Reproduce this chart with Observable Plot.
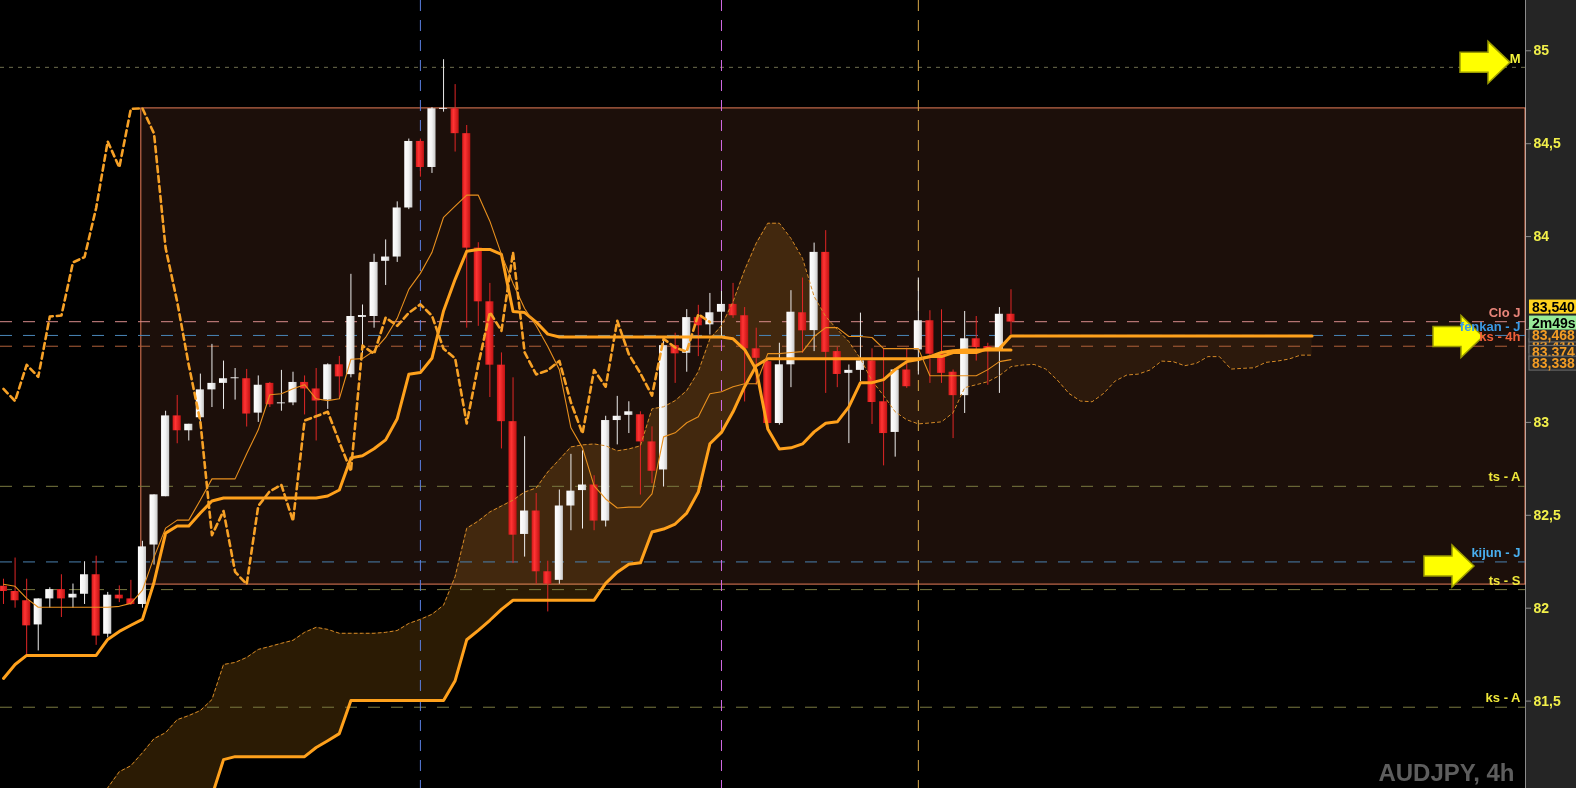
<!DOCTYPE html>
<html><head><meta charset="utf-8">
<script src="https://cdn.jsdelivr.net/npm/d3@7"></script>
<script src="https://cdn.jsdelivr.net/npm/@observablehq/plot@0.6"></script>
<style>
html,body{margin:0;padding:0;background:#000;overflow:hidden;}
#chart svg{display:block;}
#chart [aria-label^="y-axis"] text{fill:#f2f04a;font-size:14px;font-weight:bold;}
#chart [aria-label^="y-axis"] line,#chart [aria-label^="y-axis"] path{stroke:#8c8c8c;}
</style></head><body><div id="chart"></div>
<script>
// ---- candles (AUDJPY 4h), index 0..87
const open = [82.118,82.09,82.04,81.91,82.05,82.10,82.055,82.075,82.18,81.86,
82.07,82.05,82.02,82.34,82.60,83.035,82.955,83.025,83.175,83.21,
83.235,83.235,83.05,83.21,83.10,83.105,83.215,83.18,83.12,83.31,
83.257,83.565,83.57,83.867,83.89,84.154,84.512,84.372,84.685,84.688,
84.554,83.938,83.649,83.308,83.004,82.397,82.523,82.196,82.15,82.55,
82.633,82.663,82.469,83.01,83.038,83.041,82.895,82.744,83.413,83.372,
83.564,83.525,83.593,83.635,83.574,83.396,83.327,82.994,83.31,83.59,
83.494,83.915,83.381,83.264,83.28,83.331,83.111,82.946,83.282,83.39,
83.547,83.367,83.27,83.144,83.45,83.408,83.385,83.582];
const high = [82.156,82.27,82.156,82.05,82.11,82.18,82.13,82.25,82.28,82.085,
82.12,82.15,82.36,82.61,83.06,83.145,82.99,83.26,83.42,83.33,
83.29,83.285,83.25,83.215,83.28,83.27,83.25,83.29,83.315,83.355,
83.797,83.632,83.905,83.982,84.187,84.525,84.525,84.694,84.952,84.818,
84.598,83.967,83.748,83.374,83.24,82.923,82.617,82.253,82.636,82.828,
82.847,82.713,83.033,83.14,83.111,83.057,82.976,83.446,83.48,83.607,
83.63,83.694,83.705,83.748,83.618,83.507,83.345,83.426,83.709,83.777,
83.965,84.032,83.403,83.309,83.588,83.396,83.396,83.288,83.399,83.777,
83.601,83.606,83.282,83.597,83.57,83.426,83.618,83.714];
const low = [82.02,82.00,81.735,81.77,82.00,81.95,82.00,82.02,81.80,81.84,
82.03,82.015,82.00,82.232,82.60,82.885,82.90,82.99,83.08,83.07,
83.12,82.975,83.00,83.08,83.06,83.09,83.04,82.90,83.07,83.13,
83.24,83.365,83.507,83.737,83.861,84.145,84.32,84.34,84.67,84.455,
83.507,83.517,83.134,82.857,82.24,82.275,82.129,81.98,82.129,82.417,
82.426,82.417,82.437,82.879,82.94,82.609,82.67,82.652,83.21,83.27,
83.354,83.47,83.462,83.56,83.11,83.2,82.98,82.985,83.187,83.372,
83.381,83.156,83.187,82.886,83.219,82.989,82.766,82.813,83.183,83.255,
83.21,83.21,82.913,83.048,83.33,83.2,83.156,83.471];
const close = [82.09,82.04,81.905,82.05,82.10,82.05,82.075,82.18,81.85,82.07,
82.05,82.02,82.33,82.61,83.035,82.955,82.99,83.175,83.21,83.235,
83.24,83.045,83.20,83.095,83.105,83.215,83.18,83.115,83.31,83.245,
83.57,83.575,83.861,83.89,84.154,84.512,84.372,84.688,84.69,84.554,
83.938,83.649,83.308,83.004,82.393,82.523,82.196,82.129,82.55,82.63,
82.663,82.469,83.01,83.033,83.057,82.895,82.737,83.413,83.369,83.564,
83.52,83.59,83.635,83.574,83.396,83.345,82.994,83.31,83.593,83.493,
83.915,83.377,83.258,83.28,83.331,83.107,82.94,83.282,83.192,83.547,
83.367,83.264,83.144,83.45,83.403,83.381,83.582,83.54];

// ---- Ichimoku lines (index 0..87)
const tenkan = [82.129,82.118,82.053,82.005,82.005,82.005,82.005,82.005,82.005,82.005,
82.010,82.026,82.097,82.275,82.431,82.474,82.474,82.582,82.696,82.696,
82.696,82.831,82.960,83.149,83.154,83.181,83.203,83.127,83.117,83.127,
83.340,83.343,83.386,83.457,83.560,83.716,83.802,83.915,84.104,84.164,
84.223,84.223,84.083,83.904,83.748,83.613,83.520,83.408,83.284,82.971,
82.863,82.658,82.588,82.539,82.544,82.544,82.615,82.922,82.944,82.998,
83.030,83.154,83.165,83.192,83.208,83.208,83.370,83.370,83.376,83.381,
83.462,83.510,83.510,83.462,83.462,83.457,83.397,83.397,83.397,83.397,
83.251,83.251,83.251,83.251,83.251,83.284,83.327,83.338];
const kijun = [81.622,81.697,81.746,81.746,81.746,81.746,81.746,81.746,81.746,81.832,
81.875,81.908,81.940,82.140,82.404,82.442,82.442,82.512,82.577,82.593,
82.593,82.593,82.593,82.593,82.593,82.593,82.593,82.593,82.604,82.636,
82.809,82.820,82.858,82.906,83.020,83.259,83.268,83.345,83.600,83.770,
83.921,83.931,83.931,83.904,83.597,83.591,83.540,83.475,83.460,83.460,
83.460,83.460,83.460,83.460,83.460,83.460,83.460,83.460,83.460,83.460,
83.460,83.460,83.460,83.450,83.392,83.284,82.965,82.857,82.863,82.884,
82.949,82.995,83.003,83.084,83.214,83.214,83.230,83.284,83.327,83.338,
83.354,83.376,83.386,83.390,83.390,83.390,83.390,83.390];
// ---- Senkou spans, shifted 26 ahead: index 8..113
const senkouStart = 8;
const senkouA = [80.95,81.033,81.12,81.152,81.222,81.298,81.33,81.40,81.422,81.449,
81.508,81.697,81.708,81.735,81.778,81.794,81.811,81.827,81.870,81.897,
81.886,81.865,81.865,81.865,81.865,81.870,81.880,81.918,81.940,81.967,
82.016,82.170,82.430,82.469,82.518,82.550,82.582,82.625,82.647,82.733,
82.800,82.868,82.879,82.884,82.874,82.847,82.857,82.874,83.073,83.084,
83.117,83.171,83.273,83.450,83.520,83.650,83.820,83.964,84.072,84.072,
83.990,83.883,83.678,83.570,83.500,83.435,83.343,83.224,83.144,83.057,
83.014,82.992,82.997,83.003,83.052,83.187,83.203,83.219,83.252,83.300,
83.309,83.312,83.287,83.228,83.156,83.115,83.111,83.156,83.223,83.255,
83.260,83.282,83.330,83.327,83.305,83.318,83.354,83.354,83.287,83.291,
83.294,83.323,83.330,83.341,83.362,83.362];
const senkouB = [80.88,80.88,80.88,80.88,80.88,80.88,80.88,80.88,80.88,80.88,
80.99,81.185,81.201,81.201,81.201,81.201,81.201,81.201,81.201,81.25,
81.287,81.325,81.503,81.503,81.503,81.503,81.503,81.503,81.503,81.503,
81.503,81.61,81.83,81.881,81.935,81.994,82.043,82.043,82.043,82.043,
82.043,82.043,82.043,82.043,82.134,82.194,82.237,82.244,82.41,82.426,
82.453,82.512,82.625,82.885,82.946,83.057,83.192,83.305,83.343,83.343,
83.343,83.343,83.343,83.343,83.343,83.343,83.343,83.343,83.343,83.343,
83.343,83.343,83.354,83.354,83.376,83.376,83.376,83.397,83.397,83.465,
83.465,83.465,83.465,83.465,83.465,83.465,83.465,83.465,83.465,83.465,
83.465,83.465,83.465,83.465,83.465,83.465,83.465,83.465,83.465,83.465,
83.465,83.465,83.465,83.465,83.465,83.465];
const chikouShift = 26;

// ---- horizontal levels
const levelValues = [84.911, 83.542, 83.468, 83.410, 82.656, 82.249, 82.100, 81.467];
const levelLabels = ["M", "Clo J", "fenkan - J", "ks - 4h", "ts - A", "kijun - J", "ts - S", "ks - A"];
const levelLineColors = ["#6e6e4e","#d88c8c","#4a86b8","#b0603a","#7a7a40","#4a80b0","#7a7a40","#7a7a40"];
const levelTextColors = ["#f5f53c","#e8857a","#3a9ae6","#f0603a","#f0e83a","#4ab0f0","#f0e83a","#f0e83a"];
// ---- vertical markers (candle index)
const vLineIndex = [36, 62, 79];
const vLineColors = ["#5b7fe0", "#d46ae6", "#d8a848"];
// ---- range box (highest / lowest close)
const boxStart = 11.9;
const boxHigh = 84.69;
const boxLow = 82.127;
// ---- right scale ticks & axis boxes
const yTicks = [81.5, 82, 82.5, 83, 83.5, 84, 84.5, 85];
const axisValues = [83.410, 83.468, 83.374, 83.338];
const timerText = "2m49s";
const symbolLabel = "AUDJPY, 4h";

const xDomain = [-0.259, 131.43];
const yDomain = [81.0296, 85.2707];
const fmt = v => v.toFixed(3).replace(".", ",");

const candles = open.map((o, i) => ({i, o, h: high[i], l: low[i], c: close[i]}));
const chikou = close.slice(chikouShift).map((v, k) => ({i: k, v}));
const tenkanD = tenkan.map((v, i) => ({i, v}));
const kijunD = kijun.map((v, i) => ({i, v}));
const cloud = senkouA.map((a, k) => ({i: k + senkouStart, a, b: senkouB[k]}));
const levels = levelValues.map((v, k) => ({v, label: levelLabels[k], line: levelLineColors[k], text: levelTextColors[k]}));
const vlines = vLineIndex.map((i, k) => ({i, color: vLineColors[k]}));
const box = [{x1: boxStart, x2: xDomain[1], y1: boxLow, y2: boxHigh}];

const ORANGE = "#ffa11c";
const marks = [
  Plot.areaY(cloud, {x: "i", y1: "b", y2: d => Math.max(d.a, d.b), fill: "#ff9f1a", fillOpacity: 0.17}),
  Plot.areaY(cloud, {x: "i", y1: "a", y2: d => Math.max(d.a, d.b), fill: "#ff9f1a", fillOpacity: 0.07}),
  Plot.rect(box, {x1: "x1", x2: "x2", y1: "y1", y2: "y2", fill: "#1c0f0a", stroke: "#e87d58", strokeWidth: 1, mixBlendMode: "screen"}),
];
levels.forEach(l => marks.push(Plot.ruleY([l], {y: "v", stroke: "line", strokeWidth: 1, strokeDasharray: l.label === "M" ? "4,5" : "12,11"})));
marks.push(
  Plot.ruleX(vlines, {x: "i", stroke: "color", strokeWidth: 1, strokeDasharray: "11,9"}),
  Plot.ruleX(candles, {x: "i", y1: "l", y2: "h", stroke: d => d.c >= d.o ? "#ececec" : "#e02626", strokeWidth: 1}),
  Plot.rect(candles, {x1: d => d.i - 0.35, x2: d => d.i + 0.35, y1: "o", y2: "c",
    fill: d => d.c >= d.o ? "url(#gw)" : "url(#gr)"}),
  Plot.line(cloud, {x: "i", y: "a", stroke: "#d68a26", strokeWidth: 1, strokeDasharray: "3,3"}),
  Plot.line(cloud, {x: "i", y: "b", stroke: ORANGE, strokeWidth: 3}),
  Plot.line(kijunD, {x: "i", y: "v", stroke: ORANGE, strokeWidth: 3}),
  Plot.line(tenkanD, {x: "i", y: "v", stroke: "#e8901e", strokeWidth: 1.1}),
  Plot.line(chikou, {x: "i", y: "v", stroke: "#f7a126", strokeWidth: 2.6, strokeDasharray: "6,4"}),
  Plot.text(levels, {y: "v", text: "label", fill: "text", frameAnchor: "right", textAnchor: "end", dx: -5, dy: -9, fontSize: 13, fontWeight: "bold"}),
  Plot.text([symbolLabel], {frameAnchor: "bottom-right", textAnchor: "end", lineAnchor: "bottom", dx: -11, dy: -8, fontSize: 24, fontWeight: "bold", fill: "#5e5e5e"})
);

const plot = Plot.plot({
  width: 1576, height: 788,
  marginLeft: 0, marginRight: 51, marginTop: 0, marginBottom: 0,
  x: {type: "linear", domain: xDomain, axis: null},
  y: {type: "linear", domain: yDomain, axis: "right", ticks: yTicks, tickFormat: d => String(d).replace(".", ","), tickSize: 5, tickPadding: 3, label: null, line: true},
  color: {type: "identity"},
  style: {background: "linear-gradient(to right, #000 0px, #000 1525px, #252525 1525px)", fontFamily: "'Liberation Sans', Arial, sans-serif", fontSize: "14px", fontWeight: "bold", overflow: "hidden", color: "#8c8c8c"},
  marks
});
document.getElementById("chart").appendChild(plot);

// ---- gradients, arrows and axis value boxes
const svg = d3.select(plot);
const defs = svg.insert("defs", ":first-child");
const gw = defs.append("linearGradient").attr("id", "gw").attr("x1", 0).attr("x2", 1).attr("y1", 0).attr("y2", 0);
gw.append("stop").attr("offset", "0%").attr("stop-color", "#ffffff");
gw.append("stop").attr("offset", "55%").attr("stop-color", "#f2f2f2");
gw.append("stop").attr("offset", "100%").attr("stop-color", "#c8c8c8");
const gr = defs.append("linearGradient").attr("id", "gr").attr("x1", 0).attr("x2", 1).attr("y1", 0).attr("y2", 0);
gr.append("stop").attr("offset", "0%").attr("stop-color", "#d01818");
gr.append("stop").attr("offset", "35%").attr("stop-color", "#ff3434");
gr.append("stop").attr("offset", "100%").attr("stop-color", "#c01212");

const Y = v => plot.scale("y").apply(v);

function arrow(tx, ty) {
  const p = [[tx - 50, ty - 10], [tx - 22, ty - 10], [tx - 22, ty - 21], [tx, ty], [tx - 22, ty + 21], [tx - 22, ty + 10], [tx - 50, ty + 10]];
  svg.append("polygon").attr("points", p.map(q => q.join(",")).join(" "))
    .attr("fill", "#ffff00").attr("stroke", "#9a9a00").attr("stroke-width", 1.5).attr("stroke-linejoin", "miter");
}
arrow(1510, Y(levelValues[0]) - 4.5);
arrow(1483, Y(levelValues[2]) + 1.5);
arrow(1474, Y(levelValues[5]) + 4.5);
// level labels sit above the arrows
svg.selectAll('g[aria-label="text"]').raise();

const xr = 1529;
const ov = svg.append("g").attr("font-family", "'Liberation Sans', Arial, sans-serif").attr("font-weight", "bold").attr("font-size", 14).attr("text-anchor", "start");
function tag(cy, text, bg, fg, border) {
  ov.append("rect").attr("x", xr).attr("y", cy - 7).attr("width", 50).attr("height", 14)
    .attr("fill", bg).attr("stroke", border || "none").attr("stroke-width", 1);
  ov.append("text").attr("x", xr + 3).attr("y", cy).attr("dy", "0.36em").attr("text-anchor", "start").attr("fill", fg).text(text);
}
axisValues.forEach((v, k) => tag(Y(v) + (k === 3 ? 4 : 0), fmt(v), "#2b2b2b", "#f39c24", "#6e6e6e"));
const last = close[close.length - 1];
tag(Y(last) + 1, timerText, "#98ec98", "#000");
tag(Y(last) - 15, fmt(last), "#ffd21e", "#000");
</script></body></html>
